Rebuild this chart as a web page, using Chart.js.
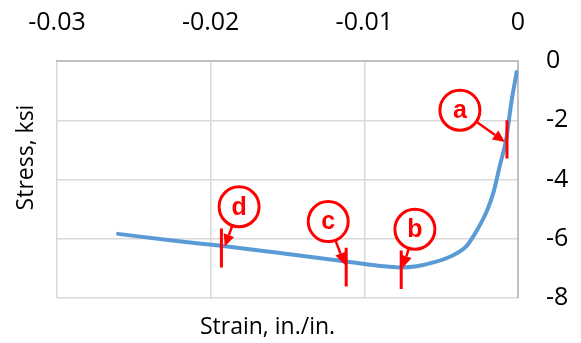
<!DOCTYPE html>
<html>
<head>
<meta charset="utf-8">
<script src="https://cdn.jsdelivr.net/npm/chart.js@4.4.1/dist/chart.umd.min.js"></script>
<style>
	html, body { margin: 0; padding: 0; background: #fff; }
	#wrap { width: 581px; height: 343px; }
</style>
</head>
<body>
<div id="wrap"><canvas id="chart" width="581" height="343"></canvas></div>
<script>
// curve (strain in in./in., stress in ksi)
const strain = [-0.02603, -0.0225, -0.0193, -0.016, -0.01118, -0.00996, -0.0085, -0.0076, -0.0066, -0.0055, -0.0044, -0.00334, -0.00259, -0.00204, -0.00161, -0.00117, -0.00078, -0.00041, -0.000085];
const stress = [-5.835, -6.06, -6.24, -6.45, -6.77, -6.855, -6.94, -6.97, -6.93, -6.80, -6.60, -6.24, -5.64, -5.08, -4.46, -3.51, -2.67, -1.32, -0.37];

// x axis ticks and y axis ticks
const xTicks = [-0.03, -0.02, -0.01, 0];
const yTicks = [0, -2, -4, -6, -8];

// annotations: letter, circle centre, marker line, arrow tip
const markLabels = ['a', 'b', 'c', 'd'];
const circleX = [-0.00378, -0.00671, -0.01235, -0.01815];
const circleY = [-1.66, -5.68, -5.42, -4.92];
const markX = [-0.000716, -0.0076, -0.01118, -0.0193];
const markTop = [-2.0, -6.40, -6.30, -5.65];
const markBottom = [-3.29, -7.70, -7.61, -6.97];
const tipX = [-0.00085, -0.0075, -0.01127, -0.01908];
const tipY = [-2.73, -6.98, -6.88, -6.26];

const RED = '#ff0000';
const BLUE = '#5b9bd5';
const CIRCLE_R = 20;

const curvePoints = strain.map((x, i) => ({ x: x, y: stress[i] }));

const markerSets = markX.map((x, i) => ({
	data: [{ x: x, y: markTop[i] }, { x: x, y: markBottom[i] }],
	showLine: true,
	borderColor: RED,
	borderWidth: 3,
	pointRadius: 0,
	order: 1,
}));

// draws the arrows, the letters and the axis titles
const annotatePlugin = {
	id: 'annotate',
	afterDatasetsDraw(chart) {
		const ctx = chart.ctx;
		const xs = chart.scales.x;
		const ys = chart.scales.y;
		ctx.save();
		for (let i = 0; i < markLabels.length; i++) {
			const cx = xs.getPixelForValue(circleX[i]);
			const cy = ys.getPixelForValue(circleY[i]);
			const tx = xs.getPixelForValue(tipX[i]);
			const ty = ys.getPixelForValue(tipY[i]);
			const dx = tx - cx;
			const dy = ty - cy;
			const len = Math.sqrt(dx * dx + dy * dy);
			const ux = dx / len;
			const uy = dy / len;
			const sx = cx + ux * (CIRCLE_R + 1);
			const sy = cy + uy * (CIRCLE_R + 1);
			const head = 12;
			const bx = tx - ux * head;
			const by = ty - uy * head;
			ctx.strokeStyle = RED;
			ctx.fillStyle = RED;
			ctx.lineWidth = 2.5;
			ctx.beginPath();
			ctx.moveTo(sx, sy);
			ctx.lineTo(bx, by);
			ctx.stroke();
			ctx.beginPath();
			ctx.moveTo(tx, ty);
			ctx.lineTo(bx - uy * 5.5, by + ux * 5.5);
			ctx.lineTo(bx + uy * 5.5, by - ux * 5.5);
			ctx.closePath();
			ctx.fill();
			ctx.font = 'bold 25px "Liberation Sans", Arial, sans-serif';
			ctx.textAlign = 'center';
			ctx.textBaseline = 'middle';
			ctx.fillText(markLabels[i], cx, cy + 1);
		}
		ctx.restore();
	},
	afterDraw(chart) {
		const ctx = chart.ctx;
		const area = chart.chartArea;
		ctx.save();
		ctx.fillStyle = '#000';
		ctx.font = '23px "Open Sans", sans-serif';
		ctx.textAlign = 'center';
		ctx.textBaseline = 'middle';
		ctx.fillText('Strain, in./in.', (area.left + area.right) / 2 - 20, 327);
		ctx.translate(26, (area.top + area.bottom) / 2 - 22);
		ctx.rotate(-Math.PI / 2);
		ctx.fillText('Stress, ksi', 0, 0);
		ctx.restore();
	},
};

const tickFont = { family: '"Open Sans", sans-serif', size: 25 };

new Chart(document.getElementById('chart'), {
	type: 'scatter',
	data: {
		datasets: [
			{
				data: curvePoints,
				showLine: true,
				borderColor: BLUE,
				borderWidth: 4,
				borderCapStyle: 'round',
				cubicInterpolationMode: 'monotone',
				pointRadius: 0,
				order: 2,
			},
			...markerSets,
			{
				data: circleX.map((x, i) => ({ x: x, y: circleY[i] })),
				pointRadius: CIRCLE_R,
				pointBorderWidth: 3,
				pointBorderColor: RED,
				pointBackgroundColor: '#fff',
				order: 0,
			},
		],
	},
	options: {
		responsive: false,
		animation: false,
		devicePixelRatio: 1,
		layout: { padding: { left: 57, top: 0, right: 0, bottom: 45 } },
		plugins: { legend: { display: false }, tooltip: { enabled: false } },
		scales: {
			x: {
				type: 'linear',
				position: 'top',
				min: xTicks[0],
				max: xTicks[xTicks.length - 1],
				afterBuildTicks: (scale) => {
					scale.ticks = xTicks.map((v) => ({ value: v }));
				},
				afterFit: (scale) => {
					scale.height = 61;
				},
				grid: { color: '#d9d9d9', lineWidth: 1.5, drawTicks: false },
				border: { color: '#bfbfbf', width: 2 },
				ticks: {
					padding: 23,
					color: '#000',
					font: tickFont,
					maxRotation: 0,
					callback: (v) => (Math.abs(v) < 1e-9 ? '0' : v.toFixed(2)),
				},
			},
			y: {
				type: 'linear',
				position: 'right',
				min: yTicks[yTicks.length - 1],
				max: yTicks[0],
				afterBuildTicks: (scale) => {
					scale.ticks = yTicks.map((v) => ({ value: v }));
				},
				afterFit: (scale) => {
					scale.width = 63;
				},
				grid: { color: '#d9d9d9', lineWidth: 1.5, drawTicks: false },
				border: { color: '#bfbfbf', width: 2 },
				ticks: {
					padding: 28,
					color: '#000',
					font: tickFont,
					callback: (v) => String(v),
				},
			},
		},
	},
	plugins: [annotatePlugin],
});
</script>
</body>
</html>
